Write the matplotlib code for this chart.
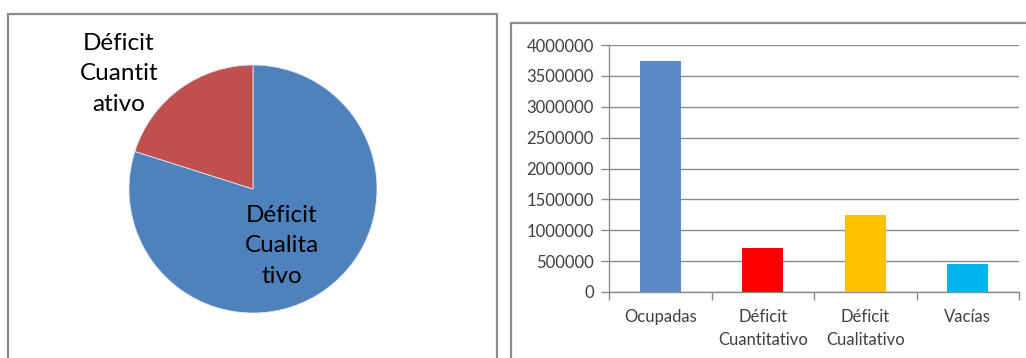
import numpy as np
import matplotlib.pyplot as plt
from matplotlib.patches import Rectangle

plt.rcParams['font.family'] = ['Lato', 'DejaVu Sans']

# pie data (share of deficit)
pie_labels = ["Déficit\nCualita\ntivo", "Déficit\nCuantit\nativo"]
pie_values = [79.9, 20.1]
pie_colors = ["#4F81BD", "#C0504D"]

# bar data
bar_cats = ["Ocupadas", "Déficit\nCuantitativo", "Déficit\nCualitativo", "Vacías"]
bar_values = [3740000, 705000, 1245000, 450000]
bar_colors = ["#5B8BC6", "#FF0000", "#FFC000", "#00B4EE"]

W, H = 1026, 358
fig = plt.figure(figsize=(W/100, H/100), dpi=100)

def fx(px): return px / W
def fy(py): return 1 - py / H

# panel frames
fig.patches.append(Rectangle((fx(8), fy(370)), fx(497) - fx(8), fy(14) - fy(370),
                             transform=fig.transFigure, fill=False, ec="#8c8c8c", lw=1.6))
fig.patches.append(Rectangle((fx(511), fy(370)), fx(1040) - fx(511), fy(23) - fy(370),
                             transform=fig.transFigure, fill=False, ec="#8c8c8c", lw=1.6))

# pie
cx, cy, r = 253, 189, 124
ax1 = fig.add_axes([fx(cx - r), fy(cy + r), 2*r/W, 2*r/H])
ax1.pie(pie_values, colors=pie_colors, startangle=90, counterclock=False,
        wedgeprops=dict(linewidth=0.6, edgecolor="#e0e6f0"))
ax1.set_xlim(-1, 1)
ax1.set_ylim(-1, 1)
ax1.axis("off")
ax1.text((282 - cx)/r, (cy - 246)/r, pie_labels[0], ha="center", va="center",
         fontsize=17.5, linespacing=1.55, color="black", clip_on=False)
ax1.text((119 - cx)/r, (cy - 74)/r, pie_labels[1], ha="center", va="center",
         fontsize=17.5, linespacing=1.55, color="black", clip_on=False)

# bars
ax2 = fig.add_axes([fx(609), fy(292), fx(1019) - fx(609), fy(45) - fy(292)])
x = np.arange(len(bar_cats))
ax2.bar(x, bar_values, width=0.4, color=bar_colors, zorder=3)
ax2.set_xlim(-0.5, len(bar_cats) - 0.5)
ax2.set_ylim(0, 4000000)
ax2.set_yticks(np.arange(0, 4000001, 500000))
ax2.set_yticklabels([str(v) for v in range(0, 4000001, 500000)])
ax2.yaxis.grid(True, color="#8a8a8a", lw=1, zorder=0)
ax2.set_xticks(x)
ax2.set_xticklabels(bar_cats, linespacing=1.6, va="top")
ax2.set_xticks(np.arange(-0.5, len(bar_cats)), minor=True)
ax2.tick_params(axis="x", which="major", length=0, pad=12, labelsize=12, labelcolor="#404040")
ax2.tick_params(axis="x", which="minor", length=6, color="#8a8a8a", width=1)
ax2.tick_params(axis="y", length=6, color="#8a8a8a", width=1, pad=5, labelsize=12, labelcolor="#404040")
for s in ["top", "right"]:
    ax2.spines[s].set_visible(False)
for s in ["left", "bottom"]:
    ax2.spines[s].set_color("#8a8a8a")
    ax2.spines[s].set_linewidth(1)

fig.savefig("out.png", dpi=100)
